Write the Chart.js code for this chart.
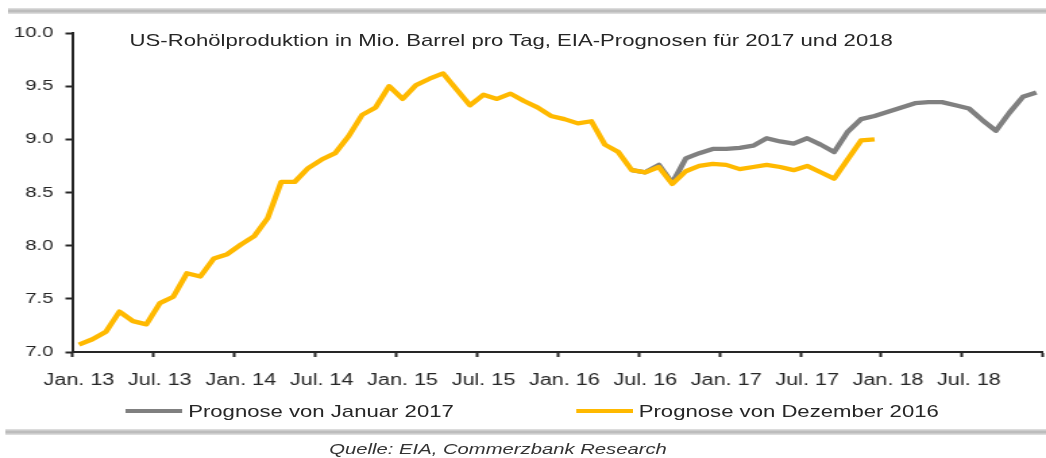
<!DOCTYPE html>
<html>
<head>
<meta charset="utf-8">
<script src="https://cdn.jsdelivr.net/npm/chart.js@4/dist/chart.umd.min.js"></script>
<style>
  html, body { margin: 0; padding: 0; background: #fff; overflow: hidden; }
  #stage { position: absolute; left: 0; top: 0; width: 775px; height: 458px; transform-origin: 0 0; transform: scaleX(1.34968); font-family: "Liberation Sans", Arial, sans-serif; color: #262626; }
  #plot { position: absolute; left: 0; top: 0; width: 775px; height: 400px; }
  .bar { position: absolute; height: 6px; right: 0; background: linear-gradient(#e4e4e4, #b4b4b4 50%, #e4e4e4); }
  #title { position: absolute; left: 96px; top: 30px; font-size: 16.4px; line-height: 20px; white-space: nowrap; }
  #legend { position: absolute; left: 7px; width: 775px; top: 401px; height: 20px; display: flex; justify-content: center; align-items: center; gap: 91px; font-size: 16.4px; line-height: 20px; }
  .item { display: flex; align-items: center; white-space: nowrap; }
  .swatch { width: 42px; height: 4px; margin-right: 4px; }
  #source { position: absolute; left: 244px; top: 440px; font-size: 15px; line-height: 18px; font-style: italic; white-space: nowrap; color: #333; }
</style>
</head>
<body>
<div id="stage">
  <div class="bar" style="top:8px; left:6px;"></div>
  <div id="plot"><canvas id="c"></canvas></div>
  <div id="title"></div>
  <div id="legend"></div>
  <div class="bar" style="top:429px; left:4px;"></div>
  <div id="source"></div>
</div>
<script>
// ---- data ----
const titleText = 'US-Rohölproduktion in Mio. Barrel pro Tag, EIA-Prognosen für 2017 und 2018';
const sourceText = 'Quelle: EIA, Commerzbank Research';
const years = ['13', '14', '15', '16', '17', '18'];
const monthNames = ['Jan.', 'Feb.', 'Mär.', 'Apr.', 'Mai', 'Jun.', 'Jul.', 'Aug.', 'Sep.', 'Okt.', 'Nov.', 'Dez.'];
const tickMonths = ['Jan.', 'Jul.'];
const seriesNames = ['Prognose von Januar 2017', 'Prognose von Dezember 2016'];

// Prognose von Dezember 2016 (Jan 13 – Dez 17)
const dec2016 = [
  7.07, 7.12, 7.19, 7.38, 7.29, 7.26, 7.46, 7.52, 7.74, 7.71, 7.88, 7.92,
  8.01, 8.09, 8.26, 8.60, 8.60, 8.73, 8.81, 8.87, 9.03, 9.23, 9.30, 9.50,
  9.38, 9.51, 9.57, 9.62, 9.47, 9.32, 9.42, 9.38, 9.43, 9.36, 9.30, 9.22,
  9.19, 9.15, 9.17, 8.95, 8.88, 8.71, 8.69, 8.74, 8.58, 8.70, 8.75, 8.77,
  8.76, 8.72, 8.74, 8.76, 8.74, 8.71, 8.75, 8.69, 8.63, 8.81, 8.99, 9.00,
  null, null, null, null, null, null, null, null, null, null, null, null
];
// Prognose von Januar 2017 (visible from Jul 16 – Dez 18)
const jan2017 = [
  null, null, null, null, null, null, null, null, null, null, null, null,
  null, null, null, null, null, null, null, null, null, null, null, null,
  null, null, null, null, null, null, null, null, null, null, null, null,
  null, null, null, null, null, 8.71, 8.69, 8.76, 8.59, 8.82, 8.87, 8.91,
  8.91, 8.92, 8.94, 9.01, 8.98, 8.96, 9.01, 8.95, 8.88, 9.07, 9.19, 9.22,
  9.26, 9.30, 9.34, 9.35, 9.35, 9.32, 9.29, 9.18, 9.08, 9.25, 9.40, 9.44
];
const yMin = 7.0, yMax = 10.0, yStep = 0.5;

// ---- styles ----
const GRAY = '#808080';
const YELLOW = '#FFB900';
const AXIS = '#262626';
const TEXT = '#262626';
const FONT = '"Liberation Sans", Arial, sans-serif';

const categories = [];
years.forEach(y => monthNames.forEach(m => categories.push(m + ' ' + y)));

document.getElementById('title').textContent = titleText;
document.getElementById('source').textContent = sourceText;

const chart = new Chart(document.getElementById('c'), {
  type: 'line',
  data: {
    labels: categories,
    datasets: [
      { label: seriesNames[0], data: jan2017, borderColor: GRAY, backgroundColor: GRAY, borderWidth: 4.3, pointRadius: 0, tension: 0, order: 1, borderJoinStyle: 'round' },
      { label: seriesNames[1], data: dec2016, borderColor: YELLOW, backgroundColor: YELLOW, borderWidth: 4.3, pointRadius: 0, tension: 0, order: 0, borderJoinStyle: 'round' }
    ]
  },
  options: {
    responsive: true,
    maintainAspectRatio: false,
    animation: false,
    devicePixelRatio: 1,
    layout: { padding: { top: 33, right: 0, left: 0, bottom: 0 } },
    plugins: { legend: { display: false }, title: { display: false }, tooltip: { enabled: false } },
    scales: {
      x: {
        type: 'category',
        offset: true,
        grid: {
          offset: true, drawOnChartArea: false, drawTicks: true, tickLength: 5, tickWidth: 2,
          tickColor: (c) => (c.index === undefined || c.index % 6 === 0) ? AXIS : 'rgba(0,0,0,0)'
        },
        border: { display: true, color: AXIS, width: 2 },
        ticks: {
          autoSkip: false, maxRotation: 0, minRotation: 0, padding: 14, color: TEXT,
          font: { family: FONT, size: 16 },
          callback: (v, i) => tickMonths.includes(categories[i].split(' ')[0]) ? categories[i] : ''
        },
        afterFit: (s) => { s.height = 48; s.paddingLeft = 0; s.paddingRight = 0; }
      },
      y: {
        min: yMin, max: yMax,
        grid: { drawOnChartArea: false, drawTicks: true, tickLength: 5, tickWidth: 2, tickColor: AXIS },
        border: { display: true, color: AXIS, width: 2 },
        ticks: { stepSize: yStep, padding: 9, color: TEXT, font: { family: FONT, size: 15 }, callback: (v) => v.toFixed(1) },
        afterFit: (s) => { s.width = 53.5; }
      }
    }
  }
});

// HTML legend built from the chart's datasets
const legendEl = document.getElementById('legend');
chart.data.datasets.forEach(ds => {
  const item = document.createElement('div');
  item.className = 'item';
  const sw = document.createElement('span');
  sw.className = 'swatch';
  sw.style.background = ds.borderColor;
  const tx = document.createElement('span');
  tx.textContent = ds.label;
  item.appendChild(sw);
  item.appendChild(tx);
  legendEl.appendChild(item);
});
</script>
</body>
</html>
